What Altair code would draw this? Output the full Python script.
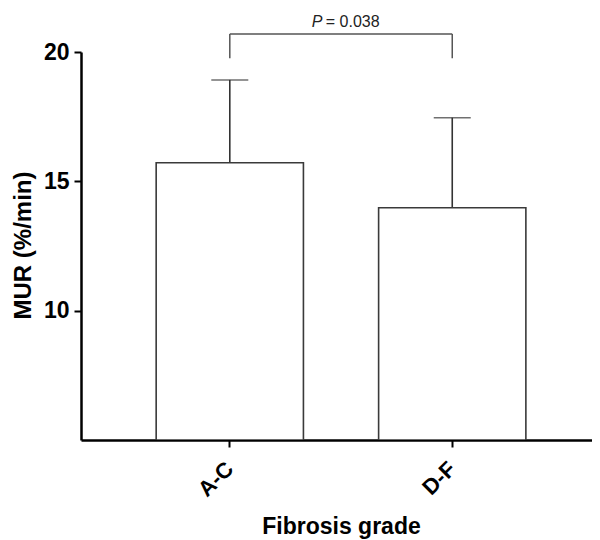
import altair as alt
import pandas as pd

groups = ["A-C", "D-F"]
means = [15.72, 13.98]
sds = [3.20, 3.48]
bracket_low = 19.76
bracket_high = 20.70
p_label = "= 0.038"

df = pd.DataFrame({"group": groups, "mean": means, "sd": sds})
df["upper"] = df["mean"] + df["sd"]
br = pd.DataFrame({"group": groups, "low": [bracket_low] * 2, "high": [bracket_high] * 2})
brh = pd.DataFrame({"g1": [groups[0]], "g2": [groups[1]], "y": [bracket_high]})

FONT = "Liberation Sans"

xscale = alt.Scale(domain=groups, paddingInner=0.338, paddingOuter=0.3176, align=0.532)
yscale = alt.Scale(domain=[5, 20], zero=False, nice=False)

xaxis = alt.Axis(
    title="Fibrosis grade", labelAngle=-45, labelAlign="right", labelBaseline="middle",
    labelFontSize=22, labelFontWeight="bold", labelPadding=18, labelColor="black",
    titleFontSize=23, titleFontWeight="bold", titleColor="black",
    titleX=260, titleY=93, titleBaseline="alphabetic", titleAnchor="middle",
    tickSize=7, tickWidth=2, tickColor="black",
    domainWidth=2.5, domainColor="black", grid=False,
)
yaxis = alt.Axis(
    title="MUR (%/min)", values=[10, 15, 20],
    labelFontSize=23, labelFontWeight="bold", labelPadding=5, labelColor="black",
    titleFontSize=24, titleFontWeight="bold", titleColor="black",
    titleX=-58, titleY=193, titleAngle=-90, titleAlign="center", titleBaseline="middle",
    tickSize=7, tickWidth=2, tickColor="black",
    domainWidth=2.5, domainColor="black", grid=False,
)

base = alt.Chart(df)

errs = base.mark_rule(color="#333333", strokeWidth=1.6).encode(
    x=alt.X("group:N", scale=xscale, axis=xaxis, sort=groups),
    y=alt.Y("mean:Q", scale=yscale, axis=yaxis),
    y2="upper:Q",
)
caps = base.mark_tick(color="#333333", thickness=1.6, size=37, orient="horizontal").encode(
    x=alt.X("group:N", scale=xscale, sort=groups),
    y=alt.Y("upper:Q", scale=yscale),
)
bars = base.mark_bar(fill="white", stroke="#3a3a3a", strokeWidth=1.6, clip=True).encode(
    x=alt.X("group:N", scale=xscale, sort=groups),
    y=alt.Y("mean:Q", scale=yscale),
    y2=alt.datum(5),
)
legs = alt.Chart(br).mark_rule(color="#555555", strokeWidth=1.5).encode(
    x=alt.X("group:N", scale=xscale, sort=groups),
    y=alt.Y("low:Q", scale=yscale),
    y2="high:Q",
)
top = alt.Chart(brh).mark_rule(color="#555555", strokeWidth=1.5).encode(
    x=alt.X("g1:N", scale=xscale),
    x2="g2:N",
    y=alt.Y("y:Q", scale=yscale),
)
ptxt = alt.Chart(brh).mark_text(
    text="P", font=FONT, fontSize=16, fontStyle="italic", align="left",
    baseline="alphabetic", dx=82, dy=-7, color="#222222",
).encode(x=alt.X("g1:N", scale=xscale), y=alt.Y("y:Q", scale=yscale))
vtxt = alt.Chart(brh).mark_text(
    text=p_label, font=FONT, fontSize=16, align="left",
    baseline="alphabetic", dx=96, dy=-7, color="#222222",
).encode(x=alt.X("g1:N", scale=xscale), y=alt.Y("y:Q", scale=yscale))

chart = alt.layer(errs, caps, bars, legs, top, ptxt, vtxt).properties(
    width=511, height=388,
    autosize=alt.AutoSizeParams(type="none"),
    padding={"left": 73, "top": 44, "right": 0, "bottom": 100},
).configure(font=FONT).configure_view(stroke=None)

chart.save("out.html", embed_options={"renderer": "svg", "actions": False})
